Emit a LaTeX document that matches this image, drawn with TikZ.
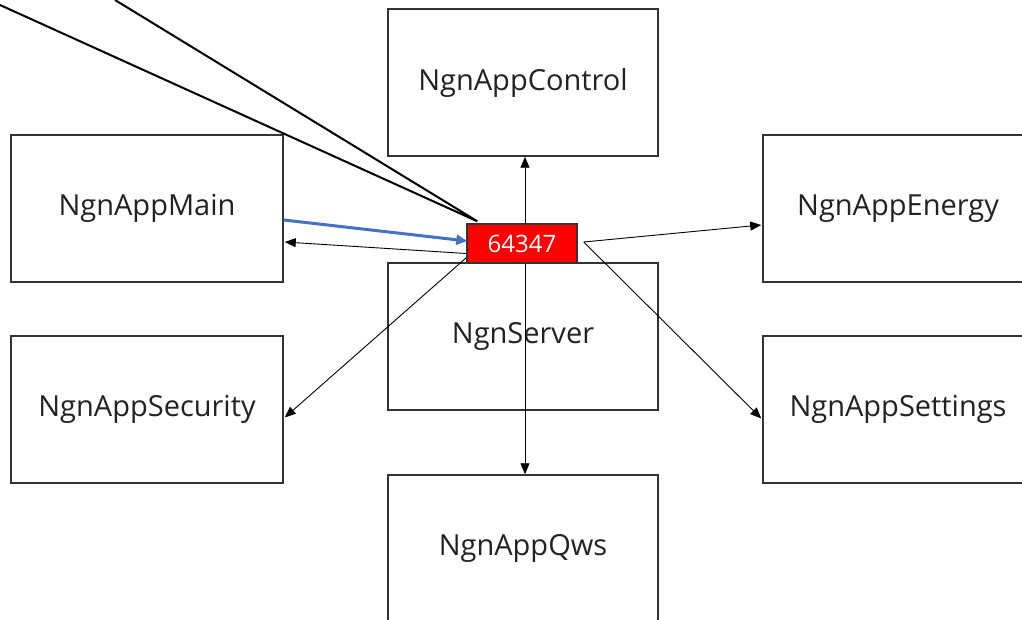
\documentclass[tikz,border=0pt]{standalone}
\usepackage{fontspec}
\setmainfont{Open Sans}
\usetikzlibrary{arrows.meta}
\definecolor{boxline}{HTML}{333333}
\definecolor{txt}{HTML}{222222}
\definecolor{blueline}{HTML}{4472C4}
\begin{document}
\begin{tikzpicture}[x=1pt,y=-1pt,
  box/.style={draw=boxline,line width=1.5pt,fill=white,minimum width=270pt,minimum height=147pt,
    inner sep=0pt,text=txt,font=\fontsize{29}{34}\selectfont},
  port/.style={draw=boxline,line width=1.5pt,fill=red,minimum width=110pt,minimum height=39pt,
    inner sep=0pt,text=white,font=\fontsize{24}{28}\selectfont},
  conn/.style={draw=black,line width=0.9pt,-{Triangle[length=11pt,width=9pt]}},
  blueconn/.style={draw=blueline,line width=3pt,-{Triangle[length=11pt,width=10pt]}},
  callout/.style={draw=black,line width=2pt}]
\useasboundingbox (0,0) rectangle (1022,620);
\fill[white] (0,0) rectangle (1022,620);
\node[box] (control) at (523,82.5) {NgnAppControl};
\node[box, minimum width=272pt] (main) at (147,208.5) {NgnAppMain};
\node[box] (energy) at (898,208.5) {NgnAppEnergy};
\node[box, minimum width=272pt] (security) at (147,409.5) {NgnAppSecurity};
\node[box] (server) at (523,336.5) {NgnServer};
\node[box] (settings) at (898,409.5) {NgnAppSettings};
\node[box] (qws) at (523,548.5) {NgnAppQws};
\node[port] (red) at (522,243.5) {64347};
% connectors
\draw[conn] ([xshift=3pt]red.north) -- ([xshift=3pt]red.north |- control.south);
\draw[conn] ([xshift=3pt]red.south) -- ([xshift=3pt]red.south |- qws.north);
\draw[conn] ([xshift=6pt,yshift=1.5pt]red.east) -- ([xshift=-1pt,yshift=-16.5pt]energy.west);
\draw[conn] ([xshift=6pt,yshift=1.5pt]red.east) -- ([xshift=-1pt,yshift=-9pt]settings.west);
\draw[conn] ([yshift=6pt]red.south west) -- ([xshift=1pt,yshift=-8pt]security.east);
\draw[conn] ([yshift=-10pt]red.west) -- ([xshift=1pt,yshift=-33.5pt]main.east);
\draw[blueconn] ([yshift=-11.5pt]main.east) -- ([xshift=1pt,yshift=2.5pt]red.west);
% callout pointer lines
\coordinate (c1) at (0,5);
\coordinate (c2) at (115,0);
\coordinate (tip) at ([xshift=11pt,yshift=2pt]red.north west);
\draw[callout] (c1) -- (tip) -- (c2);
\end{tikzpicture}
\end{document}
